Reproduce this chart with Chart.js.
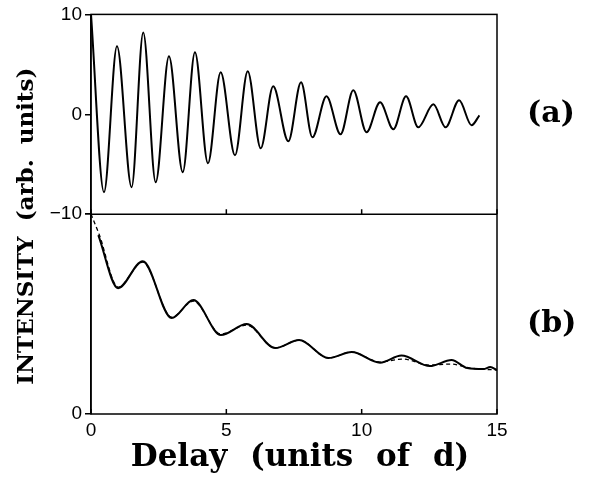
<!DOCTYPE html>
<html>
<head>
<meta charset="utf-8">
<script src="https://cdn.jsdelivr.net/npm/chart.js@4"></script>
<style>
  html, body { margin: 0; padding: 0; background: #fff; }
  #wrap { width: 592px; height: 478px; }
</style>
</head>
<body>
<div id="wrap"><canvas id="chart" width="592" height="478"></canvas></div>
<script>
// (a) oscillating signal: turning points read along the delay axis
const delayA = [0, 0.48, 0.96, 1.50, 1.93, 2.39, 2.88, 3.39, 3.84, 4.32, 4.79, 5.32, 5.79, 6.27, 6.73, 7.29,
  7.76, 8.18, 8.70, 9.22, 9.69, 10.18, 10.68, 11.17, 11.64, 12.09, 12.65, 13.10, 13.60, 14.06, 14.35];
const signalA = [10, -7.8, 6.8, -7.3, 8.2, -6.8, 5.8, -5.8, 6.2, -4.9, 4.2, -4.1, 4.3, -3.4, 2.8, -2.7,
  3.2, -2.3, 1.8, -2.0, 2.4, -1.8, 1.2, -1.5, 1.8, -1.3, 1.0, -1.3, 1.4, -1.1, -0.1];

// (b) decaying intensity, solid = measured, dashed = calculated
const delayB = [0.27, 1.0, 1.91, 2.98, 3.78, 4.8, 5.75, 6.8, 7.69, 8.77, 9.63, 10.68, 11.47, 12.52, 13.32, 13.9, 14.5, 14.75, 15];
const measuredB = [8.95, 6.3, 7.65, 4.8, 5.7, 3.95, 4.5, 3.3, 3.7, 2.8, 3.1, 2.57, 2.93, 2.4, 2.7, 2.3, 2.25, 2.35, 2.2];
const delayFit = [0, 0.3, 1.0, 1.91, 2.98, 3.78, 4.8, 5.75, 6.8, 7.69, 8.77, 9.63, 10.68, 11.5, 12.5, 13.3, 14.0, 15];
const fitB = [10, 9.0, 6.35, 7.6, 4.85, 5.65, 4.0, 4.45, 3.3, 3.7, 2.8, 3.1, 2.6, 2.75, 2.45, 2.5, 2.3, 2.2];

const xTicks = [0, 5, 10, 15];

const toPoints = (xs, ys) => xs.map((x, i) => ({ x: x, y: ys[i] }));

const tickFont = { family: "'Liberation Sans', Arial, sans-serif", size: 19 };
const serifBold = (size) => "bold " + size + "px 'DejaVu Serif', serif";
const minus = (v) => (v < 0 ? "\u2212" + Math.abs(v) : String(v));

// frame, panel divider, inward x ticks and the text labels
const framePlugin = {
  id: "frame",
  afterDraw(chart) {
    const { ctx, chartArea: a, scales } = chart;
    const xs = scales.x, ya = scales.yA, yb = scales.yB;
    const mid = ya.bottom;
    ctx.save();
    ctx.strokeStyle = "#000";
    ctx.lineWidth = 1.5;
    ctx.strokeRect(a.left, a.top, a.right - a.left, a.bottom - a.top);
    ctx.beginPath();
    ctx.moveTo(a.left, mid);
    ctx.lineTo(a.right, mid);
    xTicks.forEach((v) => {
      const px = xs.getPixelForValue(v);
      ctx.moveTo(px, mid);
      ctx.lineTo(px, mid - 5);
      ctx.moveTo(px, a.bottom);
      ctx.lineTo(px, a.bottom - 5);
    });
    ctx.stroke();

    ctx.fillStyle = "#000";
    // y title
    ctx.save();
    ctx.translate(33, (a.top + a.bottom) / 2 + 12);
    ctx.rotate(-Math.PI / 2);
    ctx.font = serifBold(23);
    ctx.wordSpacing = "7px";
    ctx.textAlign = "center";
    ctx.textBaseline = "alphabetic";
    ctx.fillText("INTENSITY (arb. units)", 0, 0);
    ctx.restore();

    // x title
    ctx.save();
    ctx.font = serifBold(31);
    ctx.wordSpacing = "12px";
    ctx.textAlign = "center";
    ctx.textBaseline = "alphabetic";
    ctx.fillText("Delay (units of d)", (a.left + a.right) / 2 + 6, a.bottom + 52);
    ctx.restore();

    // panel tags
    ctx.font = serifBold(30);
    ctx.textAlign = "left";
    ctx.textBaseline = "middle";
    ctx.fillText("(a)", a.right + 30, ya.getPixelForValue(0));
    ctx.fillText("(b)", a.right + 30, yb.getPixelForValue(4.5));
    ctx.restore();
  }
};

const fixWidth = (w) => (scale) => { scale.width = w; };

new Chart(document.getElementById("chart"), {
  type: "line",
  data: {
    datasets: [
      {
        label: "a",
        data: toPoints(delayA, signalA),
        yAxisID: "yA",
        borderColor: "#000",
        borderWidth: 2,
        pointRadius: 0,
        cubicInterpolationMode: "monotone"
      },
      {
        label: "b",
        data: toPoints(delayB, measuredB),
        yAxisID: "yB",
        borderColor: "#000",
        borderWidth: 2,
        pointRadius: 0,
        cubicInterpolationMode: "monotone"
      },
      {
        label: "b fit",
        data: toPoints(delayFit, fitB),
        yAxisID: "yB",
        borderColor: "#000",
        borderWidth: 1.3,
        borderDash: [4, 3],
        pointRadius: 0,
        cubicInterpolationMode: "monotone"
      }
    ]
  },
  options: {
    responsive: false,
    animation: false,
    events: [],
    layout: { padding: { left: 47, right: 95, top: 14, bottom: 0 } },
    plugins: {
      legend: { display: false },
      tooltip: { enabled: false }
    },
    scales: {
      x: {
        type: "linear",
        min: 0,
        max: 15,
        afterBuildTicks: (scale) => { scale.ticks = xTicks.map((v) => ({ value: v })); },
        afterFit: (scale) => { scale.height = 64; },
        grid: { display: false, drawTicks: false },
        border: { display: false },
        ticks: { color: "#000", font: tickFont, padding: 5, maxRotation: 0 }
      },
      // defined first so the stack places it below yA
      yB: {
        type: "linear",
        position: "left",
        stack: "panels",
        stackWeight: 1,
        min: 0,
        max: 10,
        afterFit: fixWidth(44),
        ticks: {
          stepSize: 10,
          color: "#000",
          font: tickFont,
          padding: 3,
          callback: (v) => (v === 0 ? "0" : "")
        },
        grid: { drawOnChartArea: false, drawTicks: true, tickLength: 6, color: "#000", lineWidth: 1.5 },
        border: { display: true, color: "#000", width: 1.5 }
      },
      yA: {
        type: "linear",
        position: "left",
        stack: "panels",
        stackWeight: 1,
        min: -10,
        max: 10,
        afterFit: fixWidth(44),
        ticks: { stepSize: 10, color: "#000", font: tickFont, padding: 3, callback: minus },
        grid: { drawOnChartArea: false, drawTicks: true, tickLength: 6, color: "#000", lineWidth: 1.5 },
        border: { display: true, color: "#000", width: 1.5 }
      }
    }
  },
  plugins: [framePlugin]
});
</script>
</body>
</html>
